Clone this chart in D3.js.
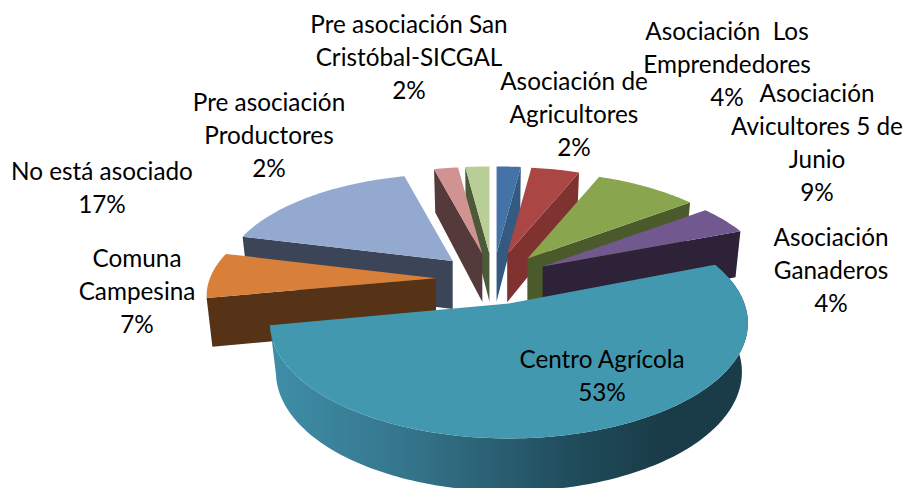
<!DOCTYPE html>
<html><head><meta charset="utf-8">
<script src="https://cdn.jsdelivr.net/npm/d3@7"></script>
<style>html,body{margin:0;padding:0;background:#fff}svg{display:block}text{font-family:Lato,Carlito,sans-serif;font-size:24.3px;fill:#000}</style>
</head><body><div id="c"></div>
<script>
const categories = ["Asociación de Agricultores","Asociación  Los Emprendedores","Asociación Avicultores 5 de Junio","Asociación Ganaderos","Centro Agrícola","Comuna Campesina","No está asociado","Pre asociación Productores","Pre asociación San Cristóbal-SICGAL"];
const values = [2,4,8.6,4.4,53,7,17,2,2];
const percentLabels = ["2%","4%","9%","4%","53%","7%","17%","2%","2%"];
const topColors = ["#4572a7","#aa4643","#89a54e","#71588f","#4198af","#d8803a","#93a9cf","#d09392","#b9cd96"];
const wallColors = ["#345a82","#7f3230","#4b5a2a","#2e2238","#2f7185","#563216","#3b4557","#553a3b","#4b5a38"];
const labelLines = [["Asociación de","Agricultores"],["Asociación  Los","Emprendedores"],["Asociación","Avicultores 5 de","Junio"],["Asociación","Ganaderos"],["Centro Agrícola"],["Comuna","Campesina"],["No está asociado"],["Pre asociación","Productores"],["Pre asociación San","Cristóbal-SICGAL"]];
const labelAnchors = [[574,90],[727,40],[817,102],[831,246],[602,368],[137,267],[102,180],[269,111],[409,33]];
const drawOrder = [8,0,7,1,6,2,3,5,4];

const W=907,H=488, cx=493, cy=279, explodeX=57, explodeY=25.5, S=235.5, T=112, P=0.17, depth=48, lowerScale=0.975, depthFalloff=0.1, lineH=33;
const svg=d3.select("#c").append("svg").attr("width",W).attr("height",H);
const grad=svg.append("defs").append("linearGradient").attr("id","wallGrad").attr("gradientUnits","userSpaceOnUse").attr("x1",270).attr("x2",748).attr("y1",0).attr("y2",0);
[[0,"#3f8ea8"],[0.3,"#34748a"],[0.65,"#1f4a59"],[0.82,"#1a3c48"],[1,"#1a3c48"]].forEach(s=>grad.append("stop").attr("offset",s[0]).attr("stop-color",s[1]));

const arcs=d3.pie().sort(null).value(d=>d)(values);
const line=d3.line();
function geom(a){
  const m=(a.startAngle+a.endAngle)/2;
  const apex=[cx+explodeX*Math.sin(m), cy-explodeY*Math.cos(m)];
  const c=Math.max(0,-Math.cos(m))/0.96;
  const kx=0.96+0.04*c, ky=0.91+0.09*c;
  const pt=(ang,low)=>{
    const u=Math.sin(ang),v=Math.cos(ang),w=1+P*v;
    const dx=kx*S*u/w,dy=-ky*T*v/w;
    return low ? [apex[0]+dx*lowerScale, apex[1]+dy+depth*(1-depthFalloff*v)] : [apex[0]+dx, apex[1]+dy];
  };
  return {m,apex,pt};
}
function arcPts(g,a0,a1,low){
  const n=Math.max(2,Math.ceil(Math.abs(a1-a0)/0.02));
  return d3.range(n+1).map(i=>g.pt(a0+(a1-a0)*i/n,low));
}
drawOrder.forEach(i=>{
  const a=arcs[i],g=geom(a);
  const apexLow=[g.apex[0],g.apex[1]+depth];
  const group=svg.append("g");
  const big=a.endAngle-a.startAngle>Math.PI/2;
  if(big){
    group.append("path").attr("d",line([...arcPts(g,a.startAngle,a.endAngle,false),...arcPts(g,a.endAngle,a.startAngle,true)])+"Z").attr("fill","url(#wallGrad)");
  } else {
    const edge=Math.sin(g.m)>0?a.endAngle:a.startAngle;
    group.append("path").attr("d",line([g.apex,g.pt(edge,false),g.pt(edge,true),apexLow])+"Z").attr("fill",wallColors[i]);
  }
  group.append("path").attr("d",line([g.apex,...arcPts(g,a.startAngle,a.endAngle,false)])+"Z").attr("fill",topColors[i]);
});
categories.forEach((c,i)=>{
  const t=svg.append("text").attr("text-anchor","middle");
  [...labelLines[i],percentLabels[i]].forEach((s,j)=>{
    t.append("tspan").attr("x",labelAnchors[i][0]).attr("y",labelAnchors[i][1]+j*lineH).style("white-space","pre").text(s);
  });
});
</script></body></html>
